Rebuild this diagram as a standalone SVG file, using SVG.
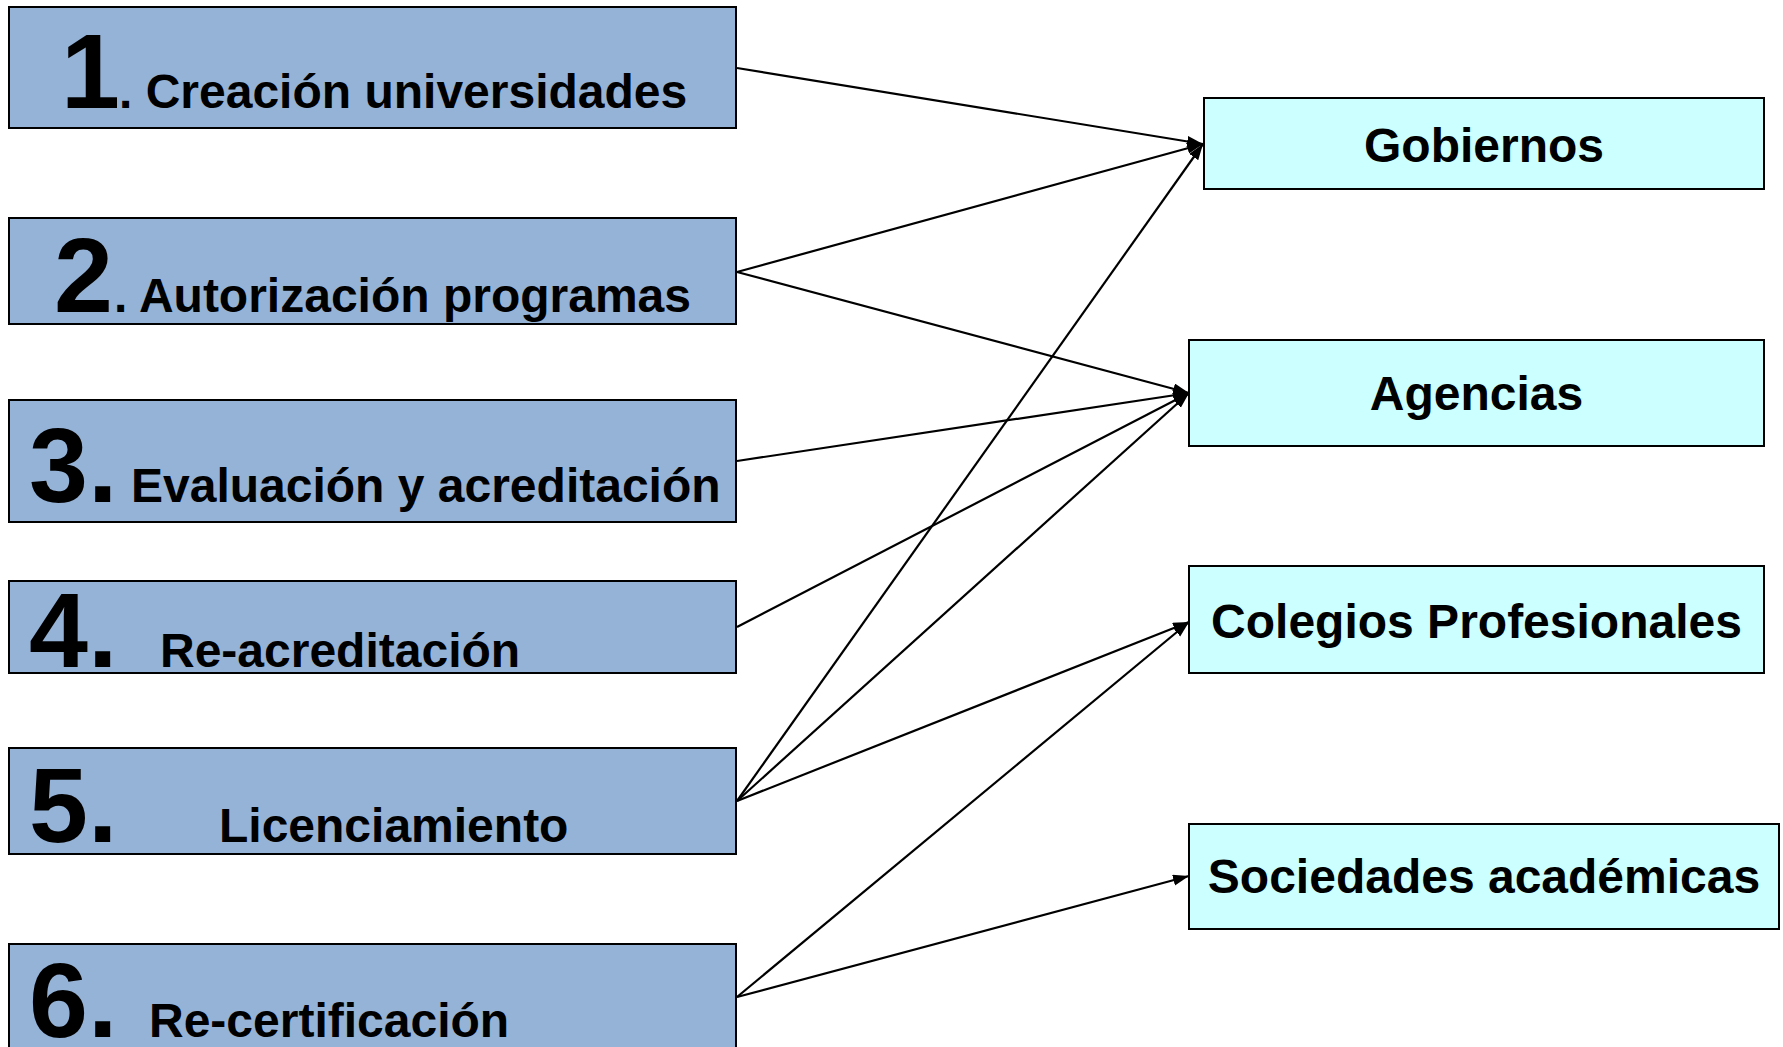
<svg xmlns="http://www.w3.org/2000/svg" width="1783" height="1047" viewBox="0 0 1783 1047">
<style>
.src{fill:#95B3D7;stroke:#000;stroke-width:2}
.dst{fill:#CCFFFF;stroke:#000;stroke-width:2}
.num{font-family:"Liberation Sans",Arial,sans-serif;font-weight:bold;font-size:106px;fill:#000}
.lbl{font-family:"Liberation Sans",Arial,sans-serif;font-weight:bold;font-size:48px;fill:#000}
.dl{font-family:"Liberation Sans",Arial,sans-serif;font-weight:bold;font-size:48px;fill:#000;text-anchor:middle}
.c{stroke:#000;stroke-width:2.2;fill:none;marker-end:url(#ah)}
</style>
<defs>
<marker id="ah" markerUnits="userSpaceOnUse" markerWidth="18" markerHeight="14" refX="16" refY="5.5" orient="auto">
<path d="M0,0 L16,5.5 L0,11 z" fill="#000"/>
</marker>
</defs>
<rect width="1783" height="1047" fill="#fff"/>
<g id="n1"><rect class="src" x="9" y="7" width="727" height="121"/><text class="num" x="61" y="108">1</text><text class="lbl" x="119" y="108">. Creación universidades</text></g>
<g id="n2"><rect class="src" x="9" y="218" width="727" height="106"/><text class="num" x="54" y="312">2</text><text class="lbl" x="114" y="312">. Autorización programas</text></g>
<g id="n3"><rect class="src" x="9" y="400" width="727" height="122"/><text class="num" x="29" y="502">3.</text><text class="lbl" x="131" y="502">Evaluación y acreditación</text></g>
<g id="n4"><rect class="src" x="9" y="581" width="727" height="92"/><text class="num" x="29" y="667">4.</text><text class="lbl" x="160" y="667">Re-acreditación</text></g>
<g id="n5"><rect class="src" x="9" y="748" width="727" height="106"/><text class="num" x="29" y="842">5.</text><text class="lbl" x="219" y="842">Licenciamiento</text></g>
<g id="n6"><rect class="src" x="9" y="944" width="727" height="120"/><text class="num" x="29" y="1037">6.</text><text class="lbl" x="149" y="1037">Re-certificación</text></g>
<g id="gob"><rect class="dst" x="1204" y="98" width="560" height="91"/><text class="dl" x="1484" y="162">Gobiernos</text></g>
<g id="age"><rect class="dst" x="1189" y="340" width="575" height="106"/><text class="dl" x="1476.5" y="410">Agencias</text></g>
<g id="col"><rect class="dst" x="1189" y="566" width="575" height="107"/><text class="dl" x="1476.5" y="638">Colegios Profesionales</text></g>
<g id="soc"><rect class="dst" x="1189" y="824" width="590" height="105"/><text class="dl" x="1484" y="893">Sociedades académicas</text></g>
<g id="connectors">
<line class="c" x1="737" y1="68" x2="1203" y2="144"/>
<line class="c" x1="737" y1="272" x2="1203" y2="144"/>
<line class="c" x1="737" y1="272" x2="1189" y2="393"/>
<line class="c" x1="737" y1="461" x2="1189" y2="393"/>
<line class="c" x1="737" y1="627" x2="1189" y2="393"/>
<line class="c" x1="737" y1="801" x2="1203" y2="144"/>
<line class="c" x1="737" y1="801" x2="1189" y2="393"/>
<line class="c" x1="737" y1="801" x2="1189" y2="622"/>
<line class="c" x1="737" y1="997" x2="1189" y2="622"/>
<line class="c" x1="737" y1="997" x2="1189" y2="876"/>
</g>
</svg>
